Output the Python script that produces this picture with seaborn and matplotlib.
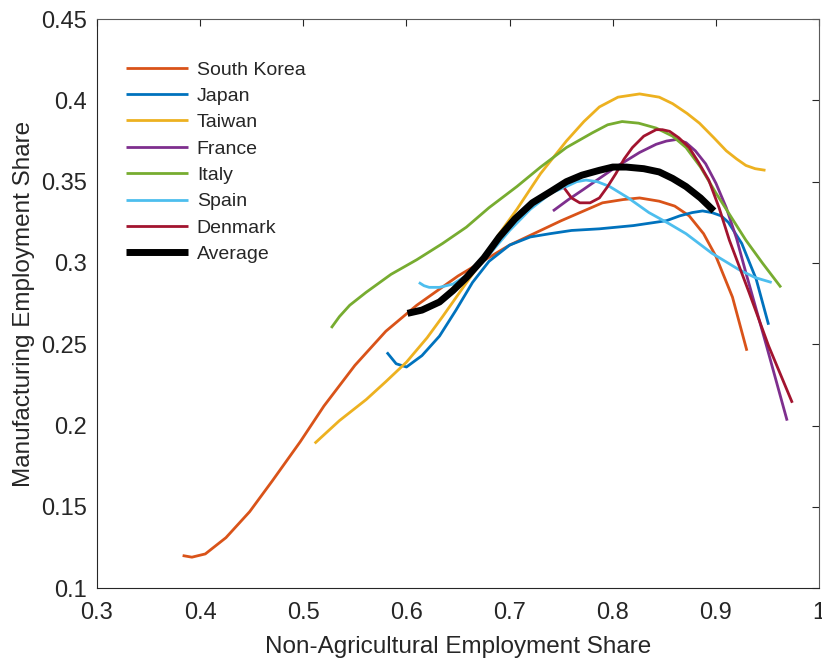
import matplotlib
matplotlib.use("Agg")
import matplotlib.pyplot as plt
import seaborn as sns
from matplotlib.ticker import FuncFormatter

# values
korea_x = [0.383, 0.392, 0.405, 0.425, 0.448, 0.47, 0.497, 0.52, 0.55, 0.58, 0.61, 0.65, 0.70, 0.75, 0.79, 0.81, 0.826, 0.845, 0.86, 0.874, 0.888, 0.90, 0.916, 0.93]
korea_y = [0.120, 0.119, 0.121, 0.131, 0.147, 0.166, 0.190, 0.212, 0.237, 0.258, 0.274, 0.292, 0.311, 0.326, 0.337, 0.339, 0.340, 0.338, 0.335, 0.329, 0.318, 0.304, 0.279, 0.246]

japan_x = [0.581, 0.59, 0.600, 0.615, 0.632, 0.648, 0.664, 0.68, 0.70, 0.72, 0.739, 0.76, 0.787, 0.82, 0.852, 0.865, 0.877, 0.887, 0.896, 0.905, 0.912, 0.925, 0.939, 0.951]
japan_y = [0.245, 0.238, 0.236, 0.243, 0.255, 0.271, 0.288, 0.301, 0.311, 0.316, 0.318, 0.320, 0.321, 0.323, 0.326, 0.329, 0.331, 0.332, 0.331, 0.329, 0.325, 0.312, 0.290, 0.262]

taiwan_x = [0.511, 0.535, 0.561, 0.58, 0.600, 0.62, 0.635, 0.655, 0.674, 0.69, 0.707, 0.73, 0.755, 0.772, 0.787, 0.805, 0.826, 0.845, 0.858, 0.872, 0.884, 0.898, 0.91, 0.92, 0.929, 0.938, 0.948]
taiwan_y = [0.189, 0.203, 0.216, 0.227, 0.239, 0.254, 0.267, 0.285, 0.302, 0.318, 0.333, 0.355, 0.375, 0.387, 0.396, 0.402, 0.404, 0.402, 0.398, 0.392, 0.386, 0.377, 0.369, 0.364, 0.360, 0.358, 0.357]

france_x = [0.742, 0.757, 0.771, 0.787, 0.803, 0.826, 0.842, 0.852, 0.862, 0.871, 0.880, 0.890, 0.900, 0.910, 0.920, 0.929, 0.949, 0.969]
france_y = [0.332, 0.339, 0.345, 0.352, 0.359, 0.368, 0.373, 0.375, 0.376, 0.374, 0.369, 0.361, 0.349, 0.334, 0.315, 0.294, 0.249, 0.203]

italy_x = [0.527, 0.535, 0.545, 0.561, 0.585, 0.610, 0.635, 0.658, 0.68, 0.707, 0.73, 0.755, 0.78, 0.795, 0.809, 0.825, 0.842, 0.858, 0.871, 0.885, 0.900, 0.915, 0.929, 0.945, 0.963]
italy_y = [0.260, 0.267, 0.274, 0.282, 0.293, 0.302, 0.312, 0.322, 0.334, 0.347, 0.359, 0.371, 0.380, 0.385, 0.387, 0.386, 0.383, 0.378, 0.371, 0.359, 0.343, 0.328, 0.314, 0.300, 0.285]

spain_x = [0.612, 0.617, 0.622, 0.632, 0.645, 0.66, 0.68, 0.70, 0.72, 0.74, 0.755, 0.765, 0.774, 0.785, 0.797, 0.815, 0.835, 0.855, 0.871, 0.896, 0.922, 0.938, 0.954]
spain_y = [0.288, 0.286, 0.285, 0.285, 0.287, 0.293, 0.305, 0.320, 0.333, 0.343, 0.347, 0.350, 0.351, 0.350, 0.347, 0.340, 0.331, 0.324, 0.318, 0.306, 0.296, 0.291, 0.288]

denmark_x = [0.753, 0.760, 0.768, 0.778, 0.787, 0.795, 0.803, 0.811, 0.819, 0.830, 0.842, 0.848, 0.855, 0.864, 0.874, 0.883, 0.893, 0.903, 0.913, 0.932, 0.951, 0.974]
denmark_y = [0.346, 0.340, 0.337, 0.337, 0.340, 0.347, 0.355, 0.364, 0.371, 0.378, 0.382, 0.382, 0.381, 0.377, 0.371, 0.362, 0.351, 0.334, 0.314, 0.282, 0.249, 0.214]

avg_x = [0.601, 0.615, 0.632, 0.645, 0.658, 0.675, 0.690, 0.705, 0.722, 0.740, 0.755, 0.770, 0.787, 0.800, 0.813, 0.830, 0.845, 0.858, 0.871, 0.885, 0.898]
avg_y = [0.269, 0.271, 0.276, 0.283, 0.291, 0.303, 0.316, 0.327, 0.337, 0.344, 0.350, 0.354, 0.357, 0.359, 0.359, 0.358, 0.356, 0.352, 0.347, 0.340, 0.332]

series = [
    ("South Korea", korea_x, korea_y, "#D95319", 2.0),
    ("Japan", japan_x, japan_y, "#0072BD", 2.0),
    ("Taiwan", taiwan_x, taiwan_y, "#EDB120", 2.0),
    ("France", france_x, france_y, "#7E2F8E", 2.0),
    ("Italy", italy_x, italy_y, "#77AC30", 2.0),
    ("Spain", spain_x, spain_y, "#4DBEEE", 2.0),
    ("Denmark", denmark_x, denmark_y, "#A2142F", 2.0),
    ("Average", avg_x, avg_y, "black", 5.0),
]

sns.set_style("white")
plt.rcParams['font.family'] = ['Liberation Sans', 'DejaVu Sans']

fig = plt.figure(figsize=(8.22, 6.6), dpi=100)
ax = fig.add_axes([0.118, 0.109, 0.8785, 0.862])

for name, xs, ys, col, lw in series:
    sns.lineplot(x=xs, y=ys, sort=False, estimator=None, color=col, linewidth=lw,
                 label=name, ax=ax, solid_joinstyle='round', solid_capstyle='butt')

ax.set_xlim(0.3, 1.0)
ax.set_ylim(0.1, 0.45)
ax.set_xticks([0.3, 0.4, 0.5, 0.6, 0.7, 0.8, 0.9, 1.0])
ax.set_yticks([0.1, 0.15, 0.2, 0.25, 0.3, 0.35, 0.4, 0.45])
ax.xaxis.set_major_formatter(FuncFormatter(lambda v, p: '%g' % round(v, 2)))
ax.yaxis.set_major_formatter(FuncFormatter(lambda v, p: '%g' % round(v, 2)))
ax.tick_params(direction='in', length=5, width=0.8, colors='#262626', labelsize=17,
               top=True, right=True, pad=7)
ax.tick_params(axis='x', pad=10)

for s in ax.spines.values():
    s.set_visible(True)
    s.set_color('#262626')
    s.set_linewidth(0.8)
ax.spines['top'].set_color('#5a5a5a')
ax.spines['right'].set_color('#5a5a5a')

ax.set_xlabel('Non-Agricultural Employment Share', fontsize=17.5, color='#262626', labelpad=9)
ax.set_ylabel('Manufacturing Employment Share', fontsize=17.5, color='#262626', labelpad=4.5)

ax.legend(loc='upper left', bbox_to_anchor=(0.04, 0.9265), frameon=False, fontsize=14,
          borderaxespad=0, borderpad=0, handlelength=3.2, handletextpad=0.45,
          labelspacing=0.45)

plt.savefig('out.png', dpi=100)
